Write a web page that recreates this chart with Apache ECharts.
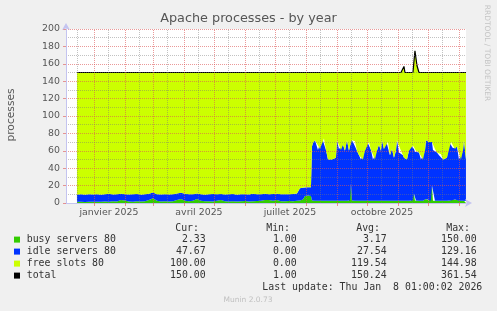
<!DOCTYPE html>
<html><head><meta charset="utf-8">
<script src="https://cdn.jsdelivr.net/npm/echarts@6/dist/echarts.min.js"></script>
<style>html,body{margin:0;padding:0;background:#f0f0f0;}#c{width:497px;height:311px;}</style>
</head><body><div id="c"></div>
<script>
// x values are days since 2025-01-01
const xMin = -27.96, xMax = 372.04;
const days = [
  -17,-13,-9,-5,-1,3,7,11,15,19,23,27,31,35,39,43,47,51,55,59,63,67,71,75,79,83,87,91,95,99,
  103,107,111,115,119,123,127,131,135,139,143,147,151,155,159,163,167,171,175,179,183,187,191,195,199,203,
  206,209,211,214,217,
  218,219,221,224,226,228,230,232,234,236,
  238,240,242,243,245,247,249,251,253,255,
  256,257,258,259,261,263,265,267,269,271,
  273,275,277,279,281,283,285,287,288,290,
  292,294,296,298,300,302,303,305,307,309,
  310,311,313,315,317,319,320,321,322,323,
  325,327,329,331,332,335,337,338,339,341,
  343,345,347,349,351,353,355,357,359,361,
  363,365,367,369,370,372
];
const busy = [
  1.5,1.5,1.2,1.5,1.3,1.5,1.5,1.8,1.5,2,1.8,3.4,3,1.8,1.5,2,1.8,2,3.5,5.5,2.5,1.8,2,1.8,2,3.5,4.5,2.5,2,2.5,
  4.6,2.5,2,2,1.8,2.5,3.5,2,1.8,2,1.8,2,2.2,1.8,2,2.2,2.5,3.5,3.4,2.5,3.5,2,2,2.2,2,2.5,
  3,4,8,8.5,8,
  3,3,2.5,2.5,2.5,2.5,2.5,2.5,2.5,2.5,
  2.5,2.5,2.5,2.5,2.5,2.5,2.5,2.5,2.5,2.5,
  3,22,3,2.5,2.5,2.5,2.5,2.5,2.5,2.5,
  2.5,2.5,2.5,2.5,2.5,2.5,2.5,2.5,2.5,4.5,
  2.5,2.5,2.5,4,2.5,2.5,2.5,2.5,2.5,4,
  2.5,2.5,2.5,2.5,2.5,3,11,3,3,2.5,
  2.5,2.5,2.5,2.5,4.5,2.5,2.5,20,2.5,2.5,
  2.5,2.5,2.5,2.5,2.5,2.5,2.5,3,4,4,
  3.5,2.5,2.5,2.5,2.5,2.33
];
const idle = [
  8,8.5,8.3,8.5,8.5,8.7,8.1,8.2,9,7.8,8.2,7.1,7.2,8,8.5,8.4,7.8,8,7,6.5,7.5,7.9,8.2,8,8,7.5,7.3,8,8,7.7,
  6.2,7.5,7.6,8,8.5,7.5,6.9,7.8,8.2,8.3,7.8,8,8,8,8.5,7.8,7.7,7,6.6,7.8,7,8,8.2,7.8,8.4,8.5,
  14,13.5,10,9.5,10,
  62,66,69.5,58.5,59.5,72.5,71.5,58.5,47.5,47.5,
  47.5,47.5,49.5,69.5,59.5,58.5,64.5,57.5,69.5,57.5,
  62,51,69,67.5,68.5,57.5,52.5,47.5,47.5,57.5,
  68.5,67.5,58.5,47.5,47.5,57.5,64.5,57.5,69.5,57.5,
  69.5,67.5,52.5,58,49.5,57.5,69.5,55.5,57.5,51,
  49.5,47.5,47.5,57.5,63.5,63,51,56,57,57.5,
  55.5,47.5,47.5,57.5,67.5,67.5,69.5,50,58.5,59.5,
  55.5,52.5,53.5,47.5,47.5,49.5,67.5,67,59,58,
  61.5,47.5,47.5,57.5,69.5,47.67
];
const free = [
  140.5,140,140.5,140,140.2,139.8,140.4,140,139.5,140.2,140,139.5,139.8,140.2,140,139.6,140.4,140,139.5,138,140,140.3,139.8,140.2,140,139,138.2,139.5,140,139.8,
  139.2,140,140.4,140,139.7,140,139.6,140.2,140,139.7,140.4,140,139.8,140.2,139.5,140,139.8,139.5,140,139.7,139.5,140,139.8,140,139.6,139,
  133,132.5,132,132,132,
  85,81,78,89,88,75,76,89,100,100,
  100,100,98,78,88,89,83,90,78,90,
  85,77,78,80,79,90,95,100,100,90,
  79,80,89,100,100,90,83,90,78,88,
  78,80,95,88,98,90,78,92,90,95,
  105,100,100,90,84,84,101,116,115,98,
  92,100,100,90,78,80,78,80,89,88,
  92,95,94,100,100,98,80,80,87,88,
  85,100,100,90,78,100
];
const total = [
  150,150,150,150,150,150,150,150,150,150,150,150,150,150,150,150,150,150,150,150,150,150,150,150,150,150,150,150,150,150,
  150,150,150,150,150,150,150,150,150,150,150,150,150,150,150,150,150,150,150,150,150,150,150,150,150,150,
  150,150,150,150,150,
  150,150,150,150,150,150,150,150,150,150,
  150,150,150,150,150,150,150,150,150,150,
  150,150,150,150,150,150,150,150,150,150,
  150,150,150,150,150,150,150,150,150,150,
  150,150,150,150,150,150,150,150,150,150,
  157,150,150,150,150,150,163,175,175,158,
  150,150,150,150,150,150,150,150,150,150,
  150,150,150,150,150,150,150,150,150,150,
  150,150,150,150,150,150
];
const monthStarts = [0,31,59,90,120,151,181,212,243,273,304,334,365];
const midMonths = [-17,14,45,73,104,134,165,195,226,257,287,318,348];
const labelDays = [15,105,196,288];
const labelTexts = ['janvier 2025','avril 2025','juillet 2025','octobre 2025'];
const yMajor = [20,40,60,80,100,120,140,160,180,200];
const yMinor = [10,30,50,70,90,110,130,150,170,190];

const legendNames = ['busy servers 80','idle servers 80','free slots 80','total'];
const legendColors = ['#33cc00','#0033ff','#ccff00','#000000'];
const curVals = ['2.33','47.67','100.00','150.00'];
const minVals = ['1.00','0.00','0.00','1.00'];
const avgVals = ['3.17','27.54','119.54','150.24'];
const maxVals = ['150.00','129.16','144.98','361.54'];

const FONT = 'DejaVu Sans';
const gridMajor = 'rgba(220,85,85,0.6)';
const gridMinor = 'rgba(120,120,120,0.45)';
const axisCol = '#c4c4f0';
// data items are [value, day]; encode maps day to x so stacking acts on the value
const pts = a => days.map((d, i) => [a[i], d]);

const graphic = [];
graphic.push({type:'text', x:248.5, y:18.5, style:{text:'Apache processes - by year', font:'12.8px "DejaVu Sans"', fill:'#555', align:'center', verticalAlign:'middle'}});
graphic.push({type:'text', x:11, y:115, rotation:Math.PI/2, style:{text:'processes', font:'10.7px "DejaVu Sans"', fill:'#555', align:'center', verticalAlign:'middle'}});
graphic.push({type:'text', x:487, y:53, rotation:-Math.PI/2, style:{text:'RRDTOOL / TOBI OETIKER', font:'7.5px "DejaVu Sans"', fill:'#c4c4c4', align:'center', verticalAlign:'middle'}});
const mono = '9.9px "DejaVu Sans Mono"';
const hdrY = 228.3;
[['Cur:',199],['Min:',290],['Avg:',380],['Max:',470]].forEach(h => {
  graphic.push({type:'text', x:h[1], y:hdrY, style:{text:h[0], font:mono, fill:'#333', align:'right', verticalAlign:'middle'}});
});
const colRight = [205.7, 296.7, 386.7, 476.7];
legendNames.forEach((n, i) => {
  const y = 239.6 + i * 12;
  graphic.push({type:'rect', shape:{x:14, y:y-3, width:6, height:6}, style:{fill:legendColors[i]}});
  graphic.push({type:'text', x:26.7, y:y, style:{text:n, font:mono, fill:'#333', align:'left', verticalAlign:'middle'}});
  [curVals, minVals, avgVals, maxVals].forEach((arr, k) => {
    graphic.push({type:'text', x:colRight[k], y:y, style:{text:arr[i], font:mono, fill:'#333', align:'right', verticalAlign:'middle'}});
  });
});
graphic.push({type:'text', x:482.3, y:287.6, style:{text:'Last update: Thu Jan  8 01:00:02 2026', font:mono, fill:'#333', align:'right', verticalAlign:'middle'}});
graphic.push({type:'text', x:248, y:300, style:{text:'Munin 2.0.73', font:'7.5px "DejaVu Sans"', fill:'#c0c0c0', align:'center', verticalAlign:'middle'}});

const major = {color:gridMajor, type:[1,1], width:1};
const minor = {color:gridMinor, type:[1,1], width:1};
const gridLines = monthStarts.map(d => ({xAxis:d, lineStyle:major}))
  .concat(midMonths.map(d => ({xAxis:d, lineStyle:minor})))
  .concat(yMajor.map(v => ({yAxis:v, lineStyle:major})))
  .concat(yMinor.map(v => ({yAxis:v, lineStyle:minor})));

const areaSeries = (name, arr, color) => ({
  name, type:'line', stack:'a', data:pts(arr), encode:{x:1, y:0}, symbol:'none', z:2,
  lineStyle:{width:0}, itemStyle:{color}, areaStyle:{color, opacity:1}
});

const chart = echarts.init(document.getElementById('c'), null, {renderer:'canvas'});
chart.setOption({
  backgroundColor:'#f0f0f0',
  animation:false,
  grid:{left:66, top:29, width:400, height:174, show:true, backgroundColor:'#ffffff', borderWidth:0},
  xAxis:{
    type:'value', min:xMin, max:xMax, z:6,
    axisLine:{show:true, onZero:false, lineStyle:{color:axisCol}, symbol:['none','arrow'], symbolSize:[6,7], symbolOffset:[0,6]},
    splitLine:{show:false},
    axisTick:{show:true, customValues:monthStarts, length:3, lineStyle:{color:gridMajor}},
    axisLabel:{customValues:labelDays, formatter:v => labelTexts[labelDays.indexOf(v)] || '', fontFamily:FONT, fontSize:9.4, color:'#555', margin:5}
  },
  yAxis:{
    type:'value', min:0, max:200, interval:20, z:6,
    axisLine:{show:true, onZero:false, lineStyle:{color:axisCol}, symbol:['none','arrow'], symbolSize:[6,7], symbolOffset:[0,6]},
    axisTick:{show:true, length:3, lineStyle:{color:gridMajor}},
    axisLabel:{fontFamily:FONT, fontSize:9.4, color:'#555', margin:6},
    splitLine:{show:false}
  },
  graphic:graphic,
  series:[
    areaSeries('busy servers 80', busy, '#33cc00'),
    areaSeries('idle servers 80', idle, '#0033ff'),
    areaSeries('free slots 80', free, '#ccff00'),
    {name:'grid', type:'line', data:[], z:3, silent:true,
     markLine:{silent:true, symbol:'none', label:{show:false}, animation:false, data:gridLines}},
    {name:'total', type:'line', data:pts(total), encode:{x:1, y:0}, symbol:'none', z:4, lineStyle:{color:'#000', width:1.2}, itemStyle:{color:'#000'}}
  ]
});
</script></body></html>
